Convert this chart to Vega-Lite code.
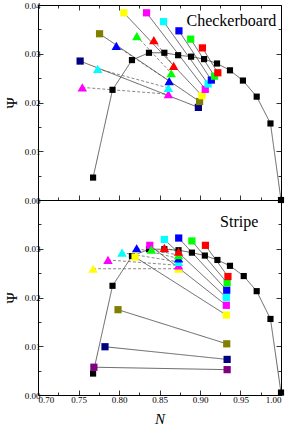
{
  "$schema": "https://vega.github.io/schema/vega-lite/v6.json",
  "padding": {"left": 3, "top": 0, "right": 8, "bottom": 0},
  "background": "white",
  "spacing": 0,
  "bounds": "flush",
  "config": {
    "view": {"stroke": "black", "strokeWidth": 1},
    "axis": {"domain": false, "grid": false, "tickColor": "black", "tickWidth": 0.8, "labelFont": "Liberation Serif", "labelFontSize": 9, "labelColor": "black", "titleFont": "Liberation Serif", "titleFontWeight": "normal", "titleColor": "black", "titleFontSize": 15}
  },
  "datasets": {
    "pts": [
      {"p": "C", "s": "Ck", "m": "square", "c": "black", "o": 0, "N": 0.768, "psi": 0.0046},
      {"p": "C", "s": "Ck", "m": "square", "c": "black", "o": 1, "N": 0.792, "psi": 0.0226},
      {"p": "C", "s": "Ck", "m": "square", "c": "black", "o": 2, "N": 0.816, "psi": 0.0287},
      {"p": "C", "s": "Ck", "m": "square", "c": "black", "o": 3, "N": 0.837, "psi": 0.0302},
      {"p": "C", "s": "Ck", "m": "square", "c": "black", "o": 4, "N": 0.856, "psi": 0.0302},
      {"p": "C", "s": "Ck", "m": "square", "c": "black", "o": 5, "N": 0.873, "psi": 0.0297},
      {"p": "C", "s": "Ck", "m": "square", "c": "black", "o": 6, "N": 0.889, "psi": 0.0294},
      {"p": "C", "s": "Ck", "m": "square", "c": "black", "o": 7, "N": 0.905, "psi": 0.0289},
      {"p": "C", "s": "Ck", "m": "square", "c": "black", "o": 8, "N": 0.921, "psi": 0.0280},
      {"p": "C", "s": "Ck", "m": "square", "c": "black", "o": 9, "N": 0.937, "psi": 0.0266},
      {"p": "C", "s": "Ck", "m": "square", "c": "black", "o": 10, "N": 0.953, "psi": 0.0245},
      {"p": "C", "s": "Ck", "m": "square", "c": "black", "o": 11, "N": 0.970, "psi": 0.0212},
      {"p": "C", "s": "Ck", "m": "square", "c": "black", "o": 12, "N": 0.987, "psi": 0.0157},
      {"p": "C", "s": "Ck", "m": "square", "c": "black", "o": 13, "N": 1.000, "psi": 0.0},

      {"p": "C", "s": "Csnavy", "m": "square", "c": "navy", "o": 0, "N": 0.752, "psi": 0.0285},
      {"p": "C", "s": "Csnavy", "m": "square", "c": "navy", "o": 1, "N": 0.898, "psi": 0.0190},
      {"p": "C", "s": "Csolive", "m": "square", "c": "olive", "o": 0, "N": 0.776, "psi": 0.0341},
      {"p": "C", "s": "Csolive", "m": "square", "c": "olive", "o": 1, "N": 0.8995, "psi": 0.0202},
      {"p": "C", "s": "Csyellow", "m": "square", "c": "yellow", "o": 0, "N": 0.806, "psi": 0.0384},
      {"p": "C", "s": "Csyellow", "m": "square", "c": "yellow", "o": 1, "N": 0.9025, "psi": 0.0214},
      {"p": "C", "s": "Csmagenta", "m": "square", "c": "magenta", "o": 0, "N": 0.834, "psi": 0.0384},
      {"p": "C", "s": "Csmagenta", "m": "square", "c": "magenta", "o": 1, "N": 0.9065, "psi": 0.0227},
      {"p": "C", "s": "Cscyan", "m": "square", "c": "cyan", "o": 0, "N": 0.855, "psi": 0.0366},
      {"p": "C", "s": "Cscyan", "m": "square", "c": "cyan", "o": 1, "N": 0.910, "psi": 0.0238},
      {"p": "C", "s": "Csblue", "m": "square", "c": "blue", "o": 0, "N": 0.874, "psi": 0.0347},
      {"p": "C", "s": "Csblue", "m": "square", "c": "blue", "o": 1, "N": 0.914, "psi": 0.0246},
      {"p": "C", "s": "Csgreen", "m": "square", "c": "green", "o": 0, "N": 0.8885, "psi": 0.0330},
      {"p": "C", "s": "Csgreen", "m": "square", "c": "green", "o": 1, "N": 0.918, "psi": 0.0254},
      {"p": "C", "s": "Csred", "m": "square", "c": "red", "o": 0, "N": 0.903, "psi": 0.0312},
      {"p": "C", "s": "Csred", "m": "square", "c": "red", "o": 1, "N": 0.922, "psi": 0.0261},

      {"p": "C", "s": "Ctmagenta", "m": "triangle", "c": "magenta", "o": 0, "N": 0.7547, "psi": 0.0231},
      {"p": "C", "s": "Ctmagenta", "m": "triangle", "c": "magenta", "o": 1, "N": 0.861, "psi": 0.0217},
      {"p": "C", "s": "Ctcyan", "m": "triangle", "c": "cyan", "o": 0, "N": 0.7737, "psi": 0.0269},
      {"p": "C", "s": "Ctcyan", "m": "triangle", "c": "cyan", "o": 1, "N": 0.861, "psi": 0.0230},
      {"p": "C", "s": "Ctblue", "m": "triangle", "c": "blue", "o": 0, "N": 0.7967, "psi": 0.0316},
      {"p": "C", "s": "Ctblue", "m": "triangle", "c": "blue", "o": 1, "N": 0.862, "psi": 0.0244},
      {"p": "C", "s": "Ctgreen", "m": "triangle", "c": "green", "o": 0, "N": 0.822, "psi": 0.0336},
      {"p": "C", "s": "Ctgreen", "m": "triangle", "c": "green", "o": 1, "N": 0.8645, "psi": 0.0260},
      {"p": "C", "s": "Ctred", "m": "triangle", "c": "red", "o": 0, "N": 0.843, "psi": 0.0328},
      {"p": "C", "s": "Ctred", "m": "triangle", "c": "red", "o": 1, "N": 0.8675, "psi": 0.0275},

      {"p": "S", "s": "Sk", "m": "square", "c": "black", "o": 0, "N": 0.768, "psi": 0.0044},
      {"p": "S", "s": "Sk", "m": "square", "c": "black", "o": 1, "N": 0.792, "psi": 0.0224},
      {"p": "S", "s": "Sk", "m": "square", "c": "black", "o": 2, "N": 0.816, "psi": 0.0285},
      {"p": "S", "s": "Sk", "m": "square", "c": "black", "o": 3, "N": 0.837, "psi": 0.0299},
      {"p": "S", "s": "Sk", "m": "square", "c": "black", "o": 4, "N": 0.856, "psi": 0.0299},
      {"p": "S", "s": "Sk", "m": "square", "c": "black", "o": 5, "N": 0.8735, "psi": 0.0297},
      {"p": "S", "s": "Sk", "m": "square", "c": "black", "o": 6, "N": 0.890, "psi": 0.0292},
      {"p": "S", "s": "Sk", "m": "square", "c": "black", "o": 7, "N": 0.906, "psi": 0.0286},
      {"p": "S", "s": "Sk", "m": "square", "c": "black", "o": 8, "N": 0.9215, "psi": 0.0277},
      {"p": "S", "s": "Sk", "m": "square", "c": "black", "o": 9, "N": 0.937, "psi": 0.0265},
      {"p": "S", "s": "Sk", "m": "square", "c": "black", "o": 10, "N": 0.954, "psi": 0.0244},
      {"p": "S", "s": "Sk", "m": "square", "c": "black", "o": 11, "N": 0.970, "psi": 0.0213},
      {"p": "S", "s": "Sk", "m": "square", "c": "black", "o": 12, "N": 0.987, "psi": 0.0156},
      {"p": "S", "s": "Sk", "m": "square", "c": "black", "o": 13, "N": 1.000, "psi": 0.0005},

      {"p": "S", "s": "Sspurple", "m": "square", "c": "purple", "o": 0, "N": 0.769, "psi": 0.0057},
      {"p": "S", "s": "Sspurple", "m": "square", "c": "purple", "o": 1, "N": 0.9335, "psi": 0.0052},
      {"p": "S", "s": "Ssnavy", "m": "square", "c": "navy", "o": 0, "N": 0.7827, "psi": 0.0099},
      {"p": "S", "s": "Ssnavy", "m": "square", "c": "navy", "o": 1, "N": 0.9335, "psi": 0.0073},
      {"p": "S", "s": "Ssolive", "m": "square", "c": "olive", "o": 0, "N": 0.7988, "psi": 0.0175},
      {"p": "S", "s": "Ssolive", "m": "square", "c": "olive", "o": 1, "N": 0.933, "psi": 0.0105},
      {"p": "S", "s": "Ssyellow", "m": "square", "c": "yellow", "o": 0, "N": 0.8198, "psi": 0.0283},
      {"p": "S", "s": "Ssyellow", "m": "square", "c": "yellow", "o": 1, "N": 0.9325, "psi": 0.0164},
      {"p": "S", "s": "Ssmagenta", "m": "square", "c": "magenta", "o": 0, "N": 0.838, "psi": 0.0307},
      {"p": "S", "s": "Ssmagenta", "m": "square", "c": "magenta", "o": 1, "N": 0.9325, "psi": 0.0184},
      {"p": "S", "s": "Sscyan", "m": "square", "c": "cyan", "o": 0, "N": 0.856, "psi": 0.0319},
      {"p": "S", "s": "Sscyan", "m": "square", "c": "cyan", "o": 1, "N": 0.9325, "psi": 0.0200},
      {"p": "S", "s": "Ssblue", "m": "square", "c": "blue", "o": 0, "N": 0.8737, "psi": 0.0322},
      {"p": "S", "s": "Ssblue", "m": "square", "c": "blue", "o": 1, "N": 0.933, "psi": 0.0215},
      {"p": "S", "s": "Ssgreen", "m": "square", "c": "green", "o": 0, "N": 0.890, "psi": 0.0316},
      {"p": "S", "s": "Ssgreen", "m": "square", "c": "green", "o": 1, "N": 0.9335, "psi": 0.0230},
      {"p": "S", "s": "Ssred", "m": "square", "c": "red", "o": 0, "N": 0.9067, "psi": 0.0307},
      {"p": "S", "s": "Ssred", "m": "square", "c": "red", "o": 1, "N": 0.9345, "psi": 0.0243},

      {"p": "S", "s": "Styellow", "m": "triangle", "c": "yellow", "o": 0, "N": 0.768, "psi": 0.0259},
      {"p": "S", "s": "Styellow", "m": "triangle", "c": "yellow", "o": 1, "N": 0.8735, "psi": 0.0259},
      {"p": "S", "s": "Stmagenta", "m": "triangle", "c": "magenta", "o": 0, "N": 0.7864, "psi": 0.0277},
      {"p": "S", "s": "Stmagenta", "m": "triangle", "c": "magenta", "o": 1, "N": 0.8735, "psi": 0.0266},
      {"p": "S", "s": "Stcyan", "m": "triangle", "c": "cyan", "o": 0, "N": 0.8037, "psi": 0.0292},
      {"p": "S", "s": "Stcyan", "m": "triangle", "c": "cyan", "o": 1, "N": 0.8735, "psi": 0.0273},
      {"p": "S", "s": "Stblue", "m": "triangle", "c": "blue", "o": 0, "N": 0.8218, "psi": 0.0301},
      {"p": "S", "s": "Stblue", "m": "triangle", "c": "blue", "o": 1, "N": 0.8735, "psi": 0.0280},
      {"p": "S", "s": "Stgreen", "m": "triangle", "c": "green", "o": 0, "N": 0.840, "psi": 0.0298},
      {"p": "S", "s": "Stgreen", "m": "triangle", "c": "green", "o": 1, "N": 0.8735, "psi": 0.0287},
      {"p": "S", "s": "Stred", "m": "triangle", "c": "red", "o": 0, "N": 0.856, "psi": 0.0302},
      {"p": "S", "s": "Stred", "m": "triangle", "c": "red", "o": 1, "N": 0.8735, "psi": 0.0294}
    ],
    "labels": [
      {"p": "C", "t": "Checkerboard", "N": 0.9387, "psi": 0.0357},
      {"p": "S", "t": "Stripe", "N": 0.9484, "psi": 0.0344}
    ]
  },
  "vconcat": [
    {
      "width": 243, "height": 195,
      "resolve": {"axis": {"x": "independent", "y": "independent"}},
      "layer": [
        {
          "data": {"name": "pts"},
          "transform": [{"filter": "datum.p === 'C'"}],
          "mark": {"type": "line", "strokeWidth": 0.7},
          "encoding": {
            "x": {"field": "N", "type": "quantitative", "scale": {"domain": [0.70, 1.00], "nice": false, "zero": false}, "axis": {"orient": "bottom", "values": [0.70, 0.75, 0.80, 0.85, 0.90, 0.95, 1.00], "labels": false, "tickSize": -5, "title": null}},
            "y": {"field": "psi", "type": "quantitative", "scale": {"domain": [0, 0.04], "nice": false, "zero": false}, "axis": {"orient": "left", "values": [0, 0.01, 0.02, 0.03, 0.04], "format": ".2f", "tickSize": -5, "labelPadding": 3, "title": "Ψ", "titlePadding": 5}},
            "detail": {"field": "s"},
            "order": {"field": "o"},
            "color": {"condition": {"test": "datum.m === 'triangle'", "value": "#555555"}, "value": "#222222"},
            "strokeDash": {"field": "m", "type": "nominal", "scale": {"domain": ["square", "triangle"], "range": [[1, 0], [3, 2]]}, "legend": null}
          }
        },
        {
          "data": {"name": "pts"},
          "transform": [{"filter": "datum.p === 'C'"}],
          "mark": {"type": "point", "filled": true, "opacity": 1, "strokeWidth": 0},
          "encoding": {
            "x": {"field": "N", "type": "quantitative", "axis": {"orient": "bottom", "values": [0.725, 0.775, 0.825, 0.875, 0.925, 0.975], "labels": false, "tickSize": -3, "title": null}},
            "y": {"field": "psi", "type": "quantitative", "axis": {"orient": "left", "values": [0.005, 0.015, 0.025, 0.035], "labels": false, "tickSize": -3, "title": null}},
            "shape": {"field": "m", "type": "nominal", "scale": {"domain": ["square", "triangle"], "range": ["square", "triangle-up"]}, "legend": null},
            "fill": {"field": "c", "type": "nominal", "scale": {"domain": ["black", "navy", "olive", "yellow", "magenta", "cyan", "blue", "green", "red", "purple"], "range": ["#000000", "#000080", "#808000", "#FFFF00", "#FF00FF", "#00FFFF", "#0000FF", "#00FF00", "#FF0000", "#800080"]}, "legend": null},
            "size": {"condition": [{"test": "datum.c === 'black'", "value": 38}, {"test": "datum.m === 'triangle'", "value": 90}], "value": 52}
          }
        },
        {
          "data": {"name": "pts"},
          "transform": [{"filter": "datum.p === 'C'"}],
          "mark": {"type": "point", "opacity": 0},
          "encoding": {
            "x": {"field": "N", "type": "quantitative", "axis": {"orient": "top", "values": [0.70, 0.75, 0.80, 0.85, 0.90, 0.95, 1.00], "labels": false, "tickSize": -5, "title": null}},
            "y": {"field": "psi", "type": "quantitative", "axis": {"orient": "right", "values": [0, 0.01, 0.02, 0.03, 0.04], "labels": false, "tickSize": -5, "title": null}}
          }
        },
        {
          "data": {"name": "pts"},
          "transform": [{"filter": "datum.p === 'C'"}],
          "mark": {"type": "point", "opacity": 0},
          "encoding": {
            "x": {"field": "N", "type": "quantitative", "axis": {"orient": "top", "values": [0.725, 0.775, 0.825, 0.875, 0.925, 0.975], "labels": false, "tickSize": -3, "title": null}},
            "y": {"field": "psi", "type": "quantitative", "axis": {"orient": "right", "values": [0.005, 0.015, 0.025, 0.035], "labels": false, "tickSize": -3, "title": null}}
          }
        },
        {
          "data": {"name": "labels"},
          "transform": [{"filter": "datum.p === 'C'"}],
          "mark": {"type": "text", "font": "Liberation Serif", "fontSize": 16, "align": "center", "baseline": "alphabetic", "color": "black"},
          "encoding": {
            "x": {"field": "N", "type": "quantitative", "axis": null},
            "y": {"field": "psi", "type": "quantitative", "axis": null},
            "text": {"field": "t"}
          }
        }
      ]
    },
    {
      "width": 243, "height": 195,
      "resolve": {"axis": {"x": "independent", "y": "independent"}},
      "layer": [
        {
          "data": {"name": "pts"},
          "transform": [{"filter": "datum.p === 'S'"}],
          "mark": {"type": "line", "strokeWidth": 0.7},
          "encoding": {
            "x": {"field": "N", "type": "quantitative", "scale": {"domain": [0.70, 1.00], "nice": false, "zero": false}, "axis": {"orient": "bottom", "values": [0.70, 0.75, 0.80, 0.85, 0.90, 0.95, 1.00], "format": ".2f", "tickSize": -5, "labelPadding": 5, "title": "N", "titleFontStyle": "italic", "titleFontSize": 15, "titlePadding": 7}},
            "y": {"field": "psi", "type": "quantitative", "scale": {"domain": [0, 0.04], "nice": false, "zero": false}, "axis": {"orient": "left", "values": [0, 0.01, 0.02, 0.03], "format": ".2f", "tickSize": -5, "labelPadding": 3, "title": "Ψ", "titlePadding": 5}},
            "detail": {"field": "s"},
            "order": {"field": "o"},
            "color": {"condition": {"test": "datum.m === 'triangle'", "value": "#555555"}, "value": "#222222"},
            "strokeDash": {"field": "m", "type": "nominal", "scale": {"domain": ["square", "triangle"], "range": [[1, 0], [3, 2]]}, "legend": null}
          }
        },
        {
          "data": {"name": "pts"},
          "transform": [{"filter": "datum.p === 'S'"}],
          "mark": {"type": "point", "filled": true, "opacity": 1, "strokeWidth": 0},
          "encoding": {
            "x": {"field": "N", "type": "quantitative", "axis": {"orient": "bottom", "values": [0.725, 0.775, 0.825, 0.875, 0.925, 0.975], "labels": false, "tickSize": -3, "title": null}},
            "y": {"field": "psi", "type": "quantitative", "axis": {"orient": "left", "values": [0.005, 0.015, 0.025, 0.035], "labels": false, "tickSize": -3, "title": null}},
            "shape": {"field": "m", "type": "nominal", "scale": {"domain": ["square", "triangle"], "range": ["square", "triangle-up"]}, "legend": null},
            "fill": {"field": "c", "type": "nominal", "scale": {"domain": ["black", "navy", "olive", "yellow", "magenta", "cyan", "blue", "green", "red", "purple"], "range": ["#000000", "#000080", "#808000", "#FFFF00", "#FF00FF", "#00FFFF", "#0000FF", "#00FF00", "#FF0000", "#800080"]}, "legend": null},
            "size": {"condition": [{"test": "datum.c === 'black'", "value": 38}, {"test": "datum.m === 'triangle'", "value": 90}], "value": 52}
          }
        },
        {
          "data": {"name": "pts"},
          "transform": [{"filter": "datum.p === 'S'"}],
          "mark": {"type": "point", "opacity": 0},
          "encoding": {
            "x": {"field": "N", "type": "quantitative", "axis": {"orient": "top", "values": [0.70], "labels": false, "ticks": false, "title": null}},
            "y": {"field": "psi", "type": "quantitative", "axis": {"orient": "right", "values": [0, 0.01, 0.02, 0.03, 0.04], "labels": false, "tickSize": -5, "title": null}}
          }
        },
        {
          "data": {"name": "pts"},
          "transform": [{"filter": "datum.p === 'S'"}],
          "mark": {"type": "point", "opacity": 0},
          "encoding": {
            "x": {"field": "N", "type": "quantitative", "axis": {"orient": "top", "values": [0.70], "labels": false, "ticks": false, "title": null}},
            "y": {"field": "psi", "type": "quantitative", "axis": {"orient": "right", "values": [0.005, 0.015, 0.025, 0.035], "labels": false, "tickSize": -3, "title": null}}
          }
        },
        {
          "data": {"name": "labels"},
          "transform": [{"filter": "datum.p === 'S'"}],
          "mark": {"type": "text", "font": "Liberation Serif", "fontSize": 16, "align": "center", "baseline": "alphabetic", "color": "black"},
          "encoding": {
            "x": {"field": "N", "type": "quantitative", "axis": null},
            "y": {"field": "psi", "type": "quantitative", "axis": null},
            "text": {"field": "t"}
          }
        }
      ]
    }
  ]
}
